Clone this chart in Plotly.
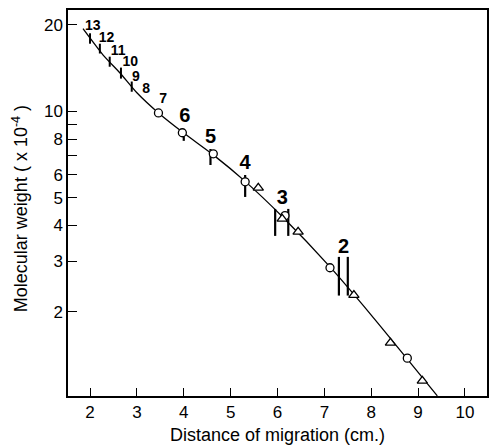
import plotly.graph_objects as go

# ---- data ----
circle_x = [3.46, 3.97, 4.63, 5.31, 6.16, 7.12, 8.77]
circle_mw = [9.87, 8.42, 7.11, 5.68, 4.33, 2.85, 1.38]

triangle_x = [5.59, 6.10, 6.44, 7.63, 8.41, 9.09]
triangle_mw = [5.41, 4.22, 3.80, 2.29, 1.56, 1.15]

fit_x = [1.85, 2.28, 2.64, 3.00, 3.46, 4.00, 4.63, 5.31, 6.10, 7.12, 8.00, 9.41]
fit_mw = [19.4, 15.7, 13.6, 11.6, 9.87, 8.40, 7.05, 5.70, 4.30, 2.87, 1.95, 1.02]

# small band marks (oligomers 13..9) on the curve
small_bar_x = [2.00, 2.21, 2.42, 2.66, 2.89]
small_bar_lo = [17.2, 15.9, 14.3, 13.0, 11.7]
small_bar_hi = [18.7, 17.2, 15.5, 14.2, 12.7]

# band ranges for oligomers 6..2
big_bar_x = [4.00, 4.57, 5.31, 5.95, 6.23, 7.31, 7.50]
big_bar_lo = [7.89, 6.50, 5.03, 3.68, 3.68, 2.28, 2.28]
big_bar_hi = [8.61, 7.39, 6.00, 4.57, 4.57, 3.11, 3.11]

small_labels = ["13", "12", "11", "10", "9", "8", "7"]
small_label_x = [2.06, 2.35, 2.60, 2.86, 2.98, 3.20, 3.56]
small_label_mw = [19.8, 18.0, 16.1, 14.8, 13.1, 11.9, 10.97]

big_labels = ["6", "5", "4", "3", "2"]
big_label_x = [4.02, 4.57, 5.31, 6.10, 7.41]
big_label_mw = [9.55, 8.07, 6.56, 4.95, 3.35]

x_ticks = [2, 3, 4, 5, 6, 7, 8, 9, 10]
y_ticks = [2, 3, 4, 5, 6, 7, 8, 9, 10, 20]
y_ticktext = ["2", "3", "4", "5", "6", "", "8", "", "10", "20"]

x_title = "Distance of migration (cm.)"
y_title = "Molecular weight ( x 10<sup>-4</sup> )"


def segs(xs, lo, hi):
    sx, sy = [], []
    for x, a, b in zip(xs, lo, hi):
        sx += [x, x, None]
        sy += [a, b, None]
    return sx, sy


FONT = "Liberation Sans, Arial, sans-serif"
fig = go.Figure()

fig.add_trace(go.Scatter(x=fit_x, y=fit_mw, mode="lines",
                         line=dict(color="black", width=1.3, shape="spline", smoothing=0.6),
                         hoverinfo="skip"))

sx, sy = segs(small_bar_x, small_bar_lo, small_bar_hi)
fig.add_trace(go.Scatter(x=sx, y=sy, mode="lines", line=dict(color="black", width=2)))
bx, by = segs(big_bar_x, big_bar_lo, big_bar_hi)
fig.add_trace(go.Scatter(x=bx, y=by, mode="lines", line=dict(color="black", width=2.2)))

fig.add_trace(go.Scatter(x=circle_x, y=circle_mw, mode="markers",
                         marker=dict(symbol="circle", size=8, color="white",
                                     line=dict(color="black", width=1.3))))
fig.add_trace(go.Scatter(x=triangle_x, y=triangle_mw, mode="markers",
                         marker=dict(symbol="triangle-up", size=9, color="white",
                                     line=dict(color="black", width=1.3))))

fig.add_trace(go.Scatter(x=small_label_x, y=small_label_mw, mode="text", text=small_labels,
                         textfont=dict(family=FONT, size=14, color="black", weight="bold"),
                         textposition="middle center"))
fig.add_trace(go.Scatter(x=big_label_x, y=big_label_mw, mode="text", text=big_labels,
                         textfont=dict(family=FONT, size=20, color="black", weight="bold"),
                         textposition="middle center"))

fig.add_annotation(text=x_title, xref="paper", yref="paper", x=0.5, y=0,
                   yshift=-39, xanchor="center", yanchor="middle", showarrow=False,
                   font=dict(family=FONT, size=18, color="black"))
fig.add_annotation(text=y_title, xref="paper", yref="paper", x=0, y=0.484,
                   xshift=-48, xanchor="center", yanchor="middle", showarrow=False,
                   textangle=-90, font=dict(family=FONT, size=18, color="black"))

fig.update_layout(
    width=491, height=448,
    margin=dict(l=68, r=2, t=10, b=52),
    paper_bgcolor="white", plot_bgcolor="white",
    showlegend=False,
    font=dict(family=FONT, color="black"),
    xaxis=dict(range=[1.53, 10.47], tickvals=x_ticks, ticks="inside", ticklen=8,
               tickwidth=1.3, tickcolor="black", showline=True, linecolor="black",
               linewidth=1.5, mirror=True, showgrid=False, zeroline=False,
               tickfont=dict(size=17)),
    yaxis=dict(type="log", range=[0.008, 1.353], tickvals=y_ticks, ticktext=y_ticktext,
               ticks="inside", ticklen=9, tickwidth=1.3, tickcolor="black",
               showline=True, linecolor="black", linewidth=1.5, mirror=True,
               showgrid=False, zeroline=False, tickfont=dict(size=17)),
)

fig.write_html("out.html", post_script="document.body.style.margin='0';",
               config={"displayModeBar": False})
